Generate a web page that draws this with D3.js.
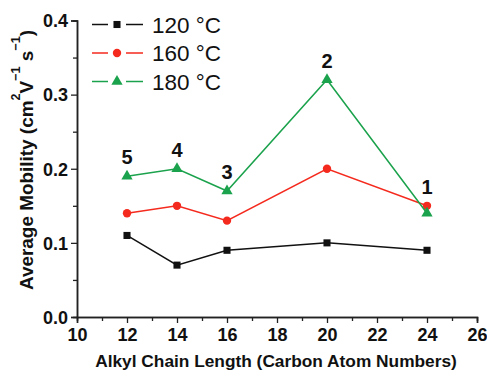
<!DOCTYPE html>
<html><head><meta charset="utf-8">
<script src="https://cdn.jsdelivr.net/npm/d3@7"></script>
<style>body{margin:0;background:#fff}svg{display:block;font-family:Arial,"Liberation Sans",sans-serif}</style>
</head><body><svg id="c" width="487" height="370"></svg>
<script>
const chainLengths = [12, 14, 16, 20, 24];
const mob120 = [0.11, 0.07, 0.09, 0.10, 0.09];
const mob160 = [0.14, 0.15, 0.13, 0.20, 0.15];
const mob180 = [0.19, 0.20, 0.17, 0.32, 0.14];
const seriesNames = ["120 \u00B0C", "160 \u00B0C", "180 \u00B0C"];
const sampleLabels = ["5", "4", "3", "2", "1"];
const xTicks = [10, 12, 14, 16, 18, 20, 22, 24, 26];
const yTicks = [0.0, 0.1, 0.2, 0.3, 0.4];

const series = [
  {name: seriesNames[0], values: mob120, color: "#111111", symbol: d3.symbolSquare, size: 50},
  {name: seriesNames[1], values: mob160, color: "#f52a1e", symbol: d3.symbolCircle, size: 55},
  {name: seriesNames[2], values: mob180, color: "#1ba24c", symbol: d3.symbolTriangle, size: 55}
];

const svg = d3.select("#c");
const x = d3.scaleLinear().domain([10, 26]).range([77, 477]);
const y = d3.scaleLinear().domain([0, 0.4]).range([317, 20.5]);

// axes
const xAxis = svg.append("g").attr("transform", "translate(0,317)")
  .call(d3.axisBottom(x).tickValues(xTicks).tickFormat(d3.format("d")).tickSize(6).tickPadding(4));
const xMinor = svg.append("g").attr("transform", "translate(0,317)")
  .call(d3.axisBottom(x).tickValues(d3.range(11, 26, 2)).tickFormat("").tickSize(4));
const yAxis = svg.append("g").attr("transform", "translate(77,0)")
  .call(d3.axisLeft(y).tickValues(yTicks).tickFormat(d3.format(".1f")).tickSize(6).tickPadding(3));
const yMinor = svg.append("g").attr("transform", "translate(77,0)")
  .call(d3.axisLeft(y).tickValues([0.05, 0.15, 0.25, 0.35]).tickFormat("").tickSize(4));
[xAxis, xMinor, yAxis, yMinor].forEach(g => {
  g.select(".domain").attr("stroke", "#222").attr("stroke-width", 1.5);
  g.selectAll(".tick line").attr("stroke", "#222").attr("stroke-width", 1.3);
  g.selectAll(".tick text").attr("fill", "#111").style("font-size", "18px").style("font-weight", "bold");
});
xAxis.selectAll(".tick text").attr("dy", "0.78em");
yAxis.selectAll(".tick text").attr("dy", "0.35em");

// axis titles
const xt = svg.append("text").attr("x", 276).attr("y", 367).attr("text-anchor", "middle")
  .style("font-size", "18px").style("font-weight", "bold").attr("fill", "#111")
  .text("Alkyl Chain Length (Carbon Atom Numbers)");
const xw = xt.node().getComputedTextLength();
xt.style("font-size", (18 * 362 / xw).toFixed(2) + "px");

const yt = svg.append("text").attr("transform", "translate(33,160) rotate(-90)")
  .attr("text-anchor", "middle").style("font-size", "18px").style("font-weight", "bold").attr("fill", "#111");
const sup = 13;
yt.append("tspan").text("Average Mobility (cm");
yt.append("tspan").attr("dy", -sup).style("font-size", "12px").text("2");
yt.append("tspan").attr("dy", sup).text("V");
yt.append("tspan").attr("dy", -sup).style("font-size", "12px").text("\u22121");
yt.append("tspan").attr("dy", sup).text(" s");
yt.append("tspan").attr("dy", -sup).style("font-size", "12px").text("\u22121");
yt.append("tspan").attr("dy", sup).text(")");
const yw = yt.node().getComputedTextLength();
const f = 260 / yw;
yt.style("font-size", (18 * f).toFixed(2) + "px");
yt.selectAll("tspan").filter(function(){ return this.style.fontSize === "12px"; })
  .style("font-size", (12 * f).toFixed(2) + "px");

// lines + markers
const line = d3.line().x((d, i) => x(chainLengths[i])).y(d => y(d));
series.forEach(s => {
  svg.append("path").datum(s.values).attr("d", line).attr("fill", "none")
    .attr("stroke", s.color).attr("stroke-width", 1.5);
  svg.selectAll(null).data(s.values).enter().append("path")
    .attr("d", d3.symbol().type(s.symbol).size(s.size))
    .attr("transform", (d, i) => `translate(${x(chainLengths[i])},${y(d)})`)
    .attr("fill", s.color);
});

// sample labels
svg.selectAll(null).data(sampleLabels).enter().append("text")
  .attr("x", (d, i) => x(chainLengths[i]))
  .attr("y", (d, i) => y(d3.max(series, s => s.values[i])) - 12)
  .attr("text-anchor", "middle").style("font-size", "20px").style("font-weight", "bold").attr("fill", "#111")
  .text(d => d);

// legend
series.forEach((s, k) => {
  const ly = 24.5 + k * 28.5;
  const g = svg.append("g");
  g.append("line").attr("x1", 92).attr("x2", 108).attr("y1", ly).attr("y2", ly)
    .attr("stroke", s.color).attr("stroke-width", 1.5);
  g.append("line").attr("x1", 126).attr("x2", 143).attr("y1", ly).attr("y2", ly)
    .attr("stroke", s.color).attr("stroke-width", 1.5);
  g.append("path").attr("d", d3.symbol().type(s.symbol).size(s.size))
    .attr("transform", `translate(117,${ly})`).attr("fill", s.color);
  g.append("text").attr("x", 152).attr("y", ly).attr("dy", "0.36em")
    .style("font-size", "22.5px").attr("fill", "#111").text(s.name);
});
</script></body></html>
